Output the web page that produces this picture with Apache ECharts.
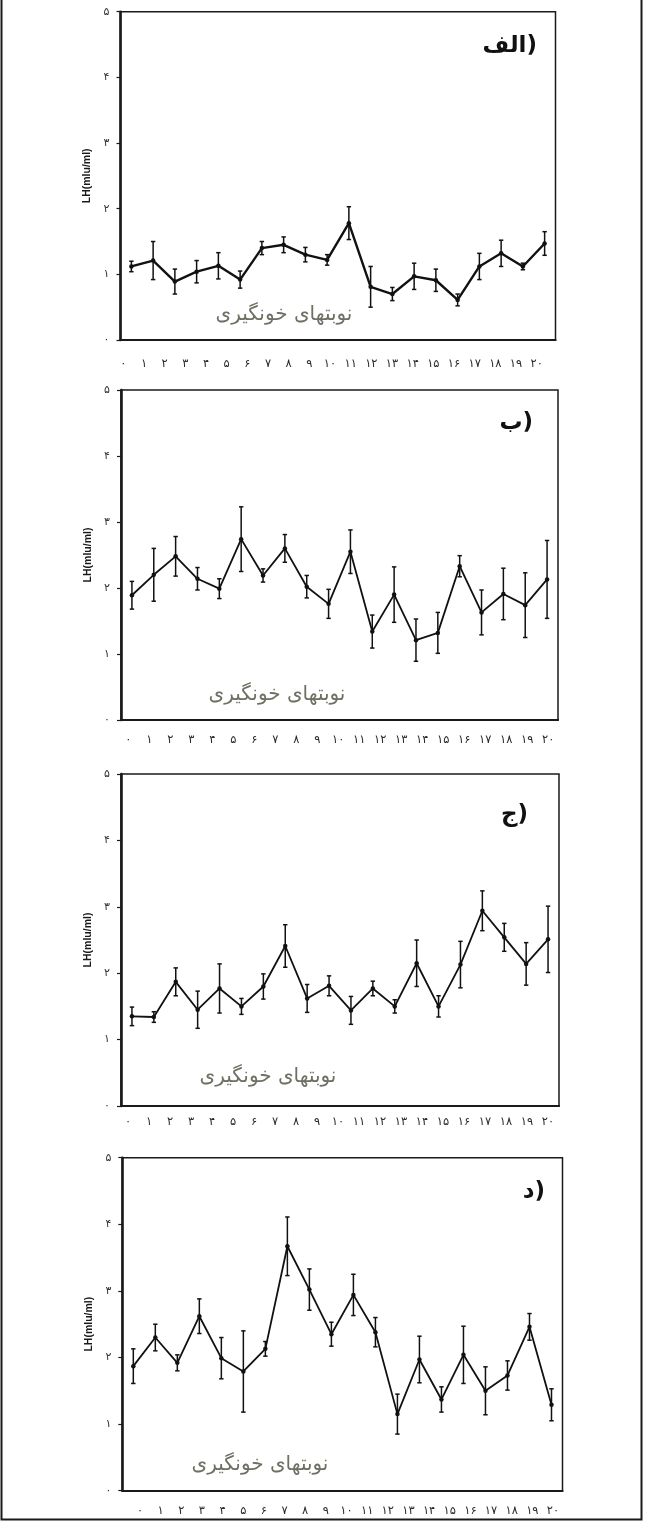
<!DOCTYPE html>
<html>
<head>
<meta charset="utf-8">
<script src="https://cdn.jsdelivr.net/npm/echarts@6/dist/echarts.min.js"></script>
<style>
html,body{margin:0;padding:0;background:#fff;}
#chart{width:645px;height:1521px;}
</style>
</head>
<body>
<div id="chart"></div>
<script>
// ---- data ----
const sessions = ['1','2','3','4','5','6','7','8','9','10','11','12','13','14','15','16','17','18','19','20'];
const xLabels = ['۰','۱','۲','۳','۴','۵','۶','۷','۸','۹','۱۰','۱۱','۱۲','۱۳','۱۴','۱۵','۱۶','۱۷','۱۸','۱۹','۲۰'];
const yLabels = ['۰','۱','۲','۳','۴','۵'];
const yName = 'LH(mIu/ml)';
const xName = 'نوبتهای خونگیری';
const panelTitles = ['الف)', 'ب)', 'ج)', 'د)'];

const meanA = [1.12,1.21,0.89,1.04,1.13,0.92,1.40,1.45,1.30,1.22,1.78,0.81,0.70,0.97,0.91,0.61,1.12,1.32,1.12,1.47];
const errA  = [0.08,0.29,0.19,0.17,0.20,0.13,0.10,0.12,0.11,0.08,0.25,0.31,0.10,0.20,0.17,0.09,0.20,0.20,0.05,0.18];

const meanB = [1.89,2.20,2.48,2.14,1.99,2.74,2.19,2.60,2.02,1.76,2.55,1.34,1.90,1.21,1.32,2.33,1.63,1.91,1.74,2.13];
const errB  = [0.21,0.40,0.30,0.17,0.15,0.49,0.10,0.21,0.17,0.22,0.33,0.25,0.42,0.32,0.31,0.16,0.34,0.39,0.49,0.59];

const meanC = [1.35,1.34,1.87,1.45,1.77,1.50,1.80,2.41,1.62,1.81,1.44,1.77,1.50,2.15,1.50,2.13,2.94,2.54,2.14,2.51];
const errC  = [0.14,0.08,0.21,0.28,0.37,0.12,0.19,0.32,0.21,0.15,0.21,0.11,0.10,0.35,0.16,0.35,0.30,0.21,0.32,0.50];

const meanD = [1.87,2.30,1.92,2.62,1.99,1.79,2.13,3.67,3.02,2.35,2.94,2.38,1.15,1.97,1.37,2.04,1.50,1.73,2.46,1.29];
const errD  = [0.26,0.20,0.12,0.26,0.31,0.61,0.11,0.44,0.31,0.18,0.31,0.22,0.30,0.35,0.19,0.43,0.36,0.22,0.20,0.24];

const means = [meanA, meanB, meanC, meanD];
const errs = [errA, errB, errC, errD];

// ---- layout ----
const layout = [
  {top:11.7,  h:328.3, left:120.5, right:89.5, lblLeft:123.3, lblRight:108.3, lblMargin:17, lw:2.4,
   titleRight:537, titleY:46, nameX:284, nameY:315},
  {top:390,   h:330,   left:121,   right:87,   lblLeft:128.3, lblRight:96.7,  lblMargin:13, lw:1.8,
   titleRight:533, titleY:423, nameX:277, nameY:695},
  {top:774,   h:332,   left:121,   right:86,   lblLeft:128,   lblRight:97,    lblMargin:9,  lw:1.8,
   titleRight:528, titleY:815, nameX:268, nameY:1077},
  {top:1157.7,h:333,   left:122.3, right:82.5, lblLeft:140,   lblRight:92,    lblMargin:13, lw:1.8,
   titleRight:545, titleY:1192, nameX:260, nameY:1465}
];

const FA = 'DejaVu Sans, Noto Sans, sans-serif';
const grids = [], xAxes = [], yAxes = [], series = [], graphics = [];

layout.forEach((L, i) => {
  const gMain = grids.length;
  grids.push({left:L.left, right:L.right, top:L.top, height:L.h, show:true,
              borderColor:'#1a1a1a', borderWidth:1.5, backgroundColor:'transparent'});
  xAxes.push({gridIndex:gMain, type:'category', data:sessions, boundaryGap:true,
    axisLine:{lineStyle:{color:'#1a1a1a', width:2.2}},
    axisTick:{alignWithLabel:true, length:3, lineStyle:{color:'#1a1a1a', width:1.2}},
    axisLabel:{show:false}, splitLine:{show:false}});
  yAxes.push({gridIndex:gMain, type:'value', min:0, max:5, interval:1,
    axisLine:{show:true, lineStyle:{color:'#1a1a1a', width:2.6}},
    axisTick:{show:true, length:4, lineStyle:{color:'#1a1a1a', width:1.2}},
    axisLabel:{margin:11, color:'#333', fontSize:11, fontFamily:FA, formatter:(v)=>yLabels[v]},
    splitLine:{show:false},
    name:yName, nameLocation:'middle', nameGap:24, nameRotate:90,
    nameTextStyle:{fontSize:10.5, fontWeight:'bold', color:'#1a1a1a', fontFamily:'Liberation Sans Narrow, Liberation Sans, Arial, sans-serif'}});

  // label-only grid (tick labels offset from ticks as in the source)
  const gLbl = grids.length;
  grids.push({left:L.lblLeft, right:L.lblRight, top:L.top + L.h, height:1, show:false});
  xAxes.push({gridIndex:gLbl, type:'category', data:xLabels, boundaryGap:false,
    axisLine:{show:false}, axisTick:{show:false}, splitLine:{show:false},
    axisLabel:{interval:0, margin:L.lblMargin, color:'#2a2a2a', fontSize:11.5, fontFamily:FA}});
  yAxes.push({gridIndex:gLbl, type:'value', show:false});

  const m = means[i], e = errs[i];
  series.push({type:'line', xAxisIndex:2*i, yAxisIndex:2*i, data:m,
    symbol:'circle', symbolSize:4.5, itemStyle:{color:'#111'},
    lineStyle:{color:'#111', width:L.lw}, animation:false, silent:true, z:3});
  series.push({type:'custom', xAxisIndex:2*i, yAxisIndex:2*i,
    data:m.map((v,k)=>[k, v - e[k], v + e[k]]),
    renderItem:function(params, api){
      const x = api.value(0);
      const lo = api.coord([x, api.value(1)]);
      const hi = api.coord([x, api.value(2)]);
      const cw = 2.2;
      const st = {stroke:'#111', lineWidth:1.5};
      return {type:'group', children:[
        {type:'line', shape:{x1:lo[0], y1:lo[1], x2:hi[0], y2:hi[1]}, style:st},
        {type:'line', shape:{x1:lo[0]-cw, y1:lo[1], x2:lo[0]+cw, y2:lo[1]}, style:st},
        {type:'line', shape:{x1:hi[0]-cw, y1:hi[1], x2:hi[0]+cw, y2:hi[1]}, style:st}
      ]};
    }, animation:false, silent:true, z:4});

  graphics.push({type:'text', x:L.titleRight, y:L.titleY,
    style:{text:panelTitles[i], fontSize:23, fontWeight:'bold', fill:'#111', fontFamily:FA,
           align:'right', verticalAlign:'middle'}});
  graphics.push({type:'text', x:L.nameX, y:L.nameY,
    style:{text:xName, fontSize:20, fill:'#6f6f63', fontFamily:FA,
           align:'center', verticalAlign:'middle'}});
});

graphics.push({type:'rect', shape:{x:1.5, y:-2, width:640, height:1521.5},
  style:{fill:'none', stroke:'#1a1a1a', lineWidth:2}, silent:true});

const chart = echarts.init(document.getElementById('chart'), null, {renderer:'canvas'});
chart.setOption({
  backgroundColor:'#ffffff',
  animation:false,
  grid:grids, xAxis:xAxes, yAxis:yAxes, series:series, graphic:graphics
});
</script>
</body>
</html>
